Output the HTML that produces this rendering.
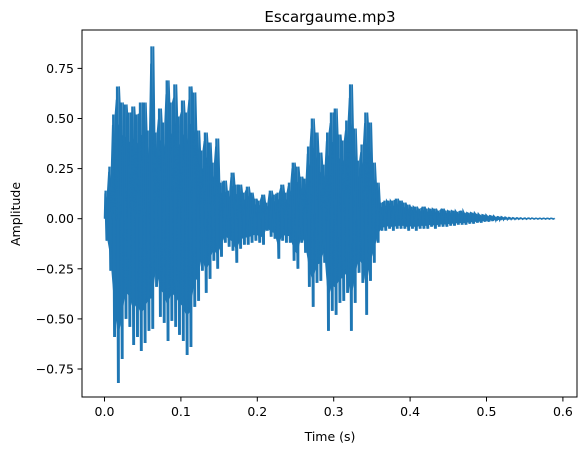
<!DOCTYPE html>
<html><head><meta charset="utf-8"><style>
html,body{margin:0;padding:0;background:#fff;}
svg{display:block;font-family:"DejaVu Sans","Liberation Sans",sans-serif;}
</style></head><body>
<svg id="chart" width="587" height="453" viewBox="0 0 587 453">
<g id="marks"></g>
<g id="axes"></g>
<text x="330" y="22" text-anchor="middle" font-size="15" fill="#000">Escargaume.mp3</text>
<text x="330" y="441" text-anchor="middle" font-size="12.5" fill="#000">Time (s)</text>
<text x="20" y="214" text-anchor="middle" font-size="12.5" fill="#000" transform="rotate(-90 20 214)">Amplitude</text>
</svg>
<script>
const binWidth = 0.005;
const maxAmp = [.14,.26,.52,.66,.58,.57,.53,.56,.52,.58,.58,.44,.86,.43,.55,.48,.69,.58,.67,.51,.59,.53,.66,.63,.44,.34,.43,.38,.28,.40,.18,.19,.14,.23,.17,.17,.13,.16,.13,.10,.09,.12,.08,.14,.12,.13,.17,.13,.18,.28,.26,.21,.20,.36,.50,.43,.33,.27,.43,.53,.55,.42,.39,.49,.67,.45,.29,.37,.53,.48,.28,.18,.08,.09,.09,.09,.10,.09,.08,
.07,.06,.06,.05,.06,.05,.05,.05,.04,.05,.04,.04,.04,.035,.04,.03,.03,.03,.025,.02,.02,.015,.015,.01,.01,.008,.006,.005,.004,.004,.003,.003,.003,.002,.002,.002,.002,.002,.002];
const minAmp = [-.11,-.26,-.59,-.82,-.70,-.50,-.54,-.63,-.59,-.66,-.62,-.56,-.55,-.34,-.49,-.52,-.61,-.51,-.54,-.58,-.61,-.68,-.64,-.44,-.41,-.26,-.37,-.30,-.21,-.25,-.19,-.12,-.14,-.16,-.22,-.15,-.13,-.13,-.12,-.11,-.12,-.13,-.06,-.09,-.10,-.20,-.11,-.12,-.12,-.21,-.25,-.12,-.17,-.34,-.44,-.32,-.31,-.22,-.56,-.46,-.48,-.42,-.41,-.37,-.56,-.42,-.27,-.32,-.48,-.31,-.22,-.12,-.06,-.06,-.05,-.06,-.05,-.05,-.05,
-.06,-.05,-.06,-.05,-.05,-.05,-.04,-.05,-.04,-.04,-.04,-.035,-.035,-.03,-.03,-.03,-.025,-.025,-.02,-.02,-.015,-.015,-.012,-.01,-.008,-.006,-.005,-.004,-.004,-.003,-.003,-.003,-.002,-.002,-.002,-.002,-.002,-.002,-.002];
const xTicks = [0,0.1,0.2,0.3,0.4,0.5,0.6];
const xTickLabels = ["0.0","0.1","0.2","0.3","0.4","0.5","0.6"];
const yTicks = [-0.75,-0.5,-0.25,0,0.25,0.5,0.75];
const yTickLabels = ["\u22120.75","\u22120.50","\u22120.25","0.00","0.25","0.50","0.75"];

const X0=82, X1=577, Y0=30, Y1=397;
function xs(t){return 104.5 + t*764;}
function ys(a){return 218.7 - a*200.4;}
const NS='http://www.w3.org/2000/svg';
const marks=document.getElementById('marks');
const axes=document.getElementById('axes');
const col='#1f77b4';
let pts=[];
for(let i=0;i<maxAmp.length;i++){pts.push(xs((i+0.5)*binWidth).toFixed(2)+','+ys(maxAmp[i]*0.72).toFixed(2));}
for(let i=minAmp.length-1;i>=0;i--){pts.push(xs((i+0.5)*binWidth).toFixed(2)+','+ys(minAmp[i]*0.72).toFixed(2));}
const core=document.createElementNS(NS,'polygon');
core.setAttribute('points',pts.join(' '));
core.setAttribute('fill',col);


marks.appendChild(core);
let d='';
for(let i=0;i<maxAmp.length;i++){
  const t0=i*binWidth;
  d+='M'+xs(t0+binWidth*0.3).toFixed(2)+','+ys(0).toFixed(2)+'V'+ys(maxAmp[i]).toFixed(2);
  d+='M'+xs(t0+binWidth*0.7).toFixed(2)+','+ys(0).toFixed(2)+'V'+ys(minAmp[i]).toFixed(2);
}
const zz=document.createElementNS(NS,'path');
zz.setAttribute('d',d);
zz.setAttribute('stroke',col);
zz.setAttribute('stroke-width','2.4');
zz.setAttribute('fill','none');


marks.appendChild(zz);
let z='M'+xs(0)+','+ys(0);
for(let i=0;i<maxAmp.length;i++){
  const t0=i*binWidth;
  z+='L'+xs(t0+binWidth*0.15).toFixed(2)+','+ys(maxAmp[i]*0.9).toFixed(2);
  z+='L'+xs(t0+binWidth*0.45).toFixed(2)+','+ys(minAmp[i]).toFixed(2);
  z+='L'+xs(t0+binWidth*0.85).toFixed(2)+','+ys(maxAmp[i]).toFixed(2);
}
const zl=document.createElementNS(NS,'path');
zl.setAttribute('d',z);
zl.setAttribute('stroke',col);
zl.setAttribute('stroke-width','1.5');
zl.setAttribute('fill','none');


marks.appendChild(zl);
const fr=document.createElementNS(NS,'rect');
fr.setAttribute('x',X0);fr.setAttribute('y',Y0);fr.setAttribute('width',X1-X0);fr.setAttribute('height',Y1-Y0);
fr.setAttribute('fill','none');fr.setAttribute('stroke','#000');fr.setAttribute('stroke-width','1');


axes.appendChild(fr);
xTicks.forEach((v,i)=>{
  const x=xs(v);
  const l=document.createElementNS(NS,'line');
  l.setAttribute('x1',x);l.setAttribute('x2',x);l.setAttribute('y1',Y1);l.setAttribute('y2',Y1+4.5);
  l.setAttribute('stroke','#000');
  
  
  axes.appendChild(l);
  const t=document.createElementNS(NS,'text');
  t.setAttribute('x',x);t.setAttribute('y',Y1+19);t.setAttribute('text-anchor','middle');t.setAttribute('font-size','12.5');
  t.textContent=xTickLabels[i];
  
  
  axes.appendChild(t);
});
yTicks.forEach((v,i)=>{
  const y=ys(v);
  const l=document.createElementNS(NS,'line');
  l.setAttribute('x1',X0-4.5);l.setAttribute('x2',X0);l.setAttribute('y1',y);l.setAttribute('y2',y);
  l.setAttribute('stroke','#000');
  
  
  axes.appendChild(l);
  const t=document.createElementNS(NS,'text');
  t.setAttribute('x',X0-8);t.setAttribute('y',y+4.5);t.setAttribute('text-anchor','end');t.setAttribute('font-size','12.5');
  t.textContent=yTickLabels[i];
  
  
  axes.appendChild(t);
});
</script>
</body></html>
